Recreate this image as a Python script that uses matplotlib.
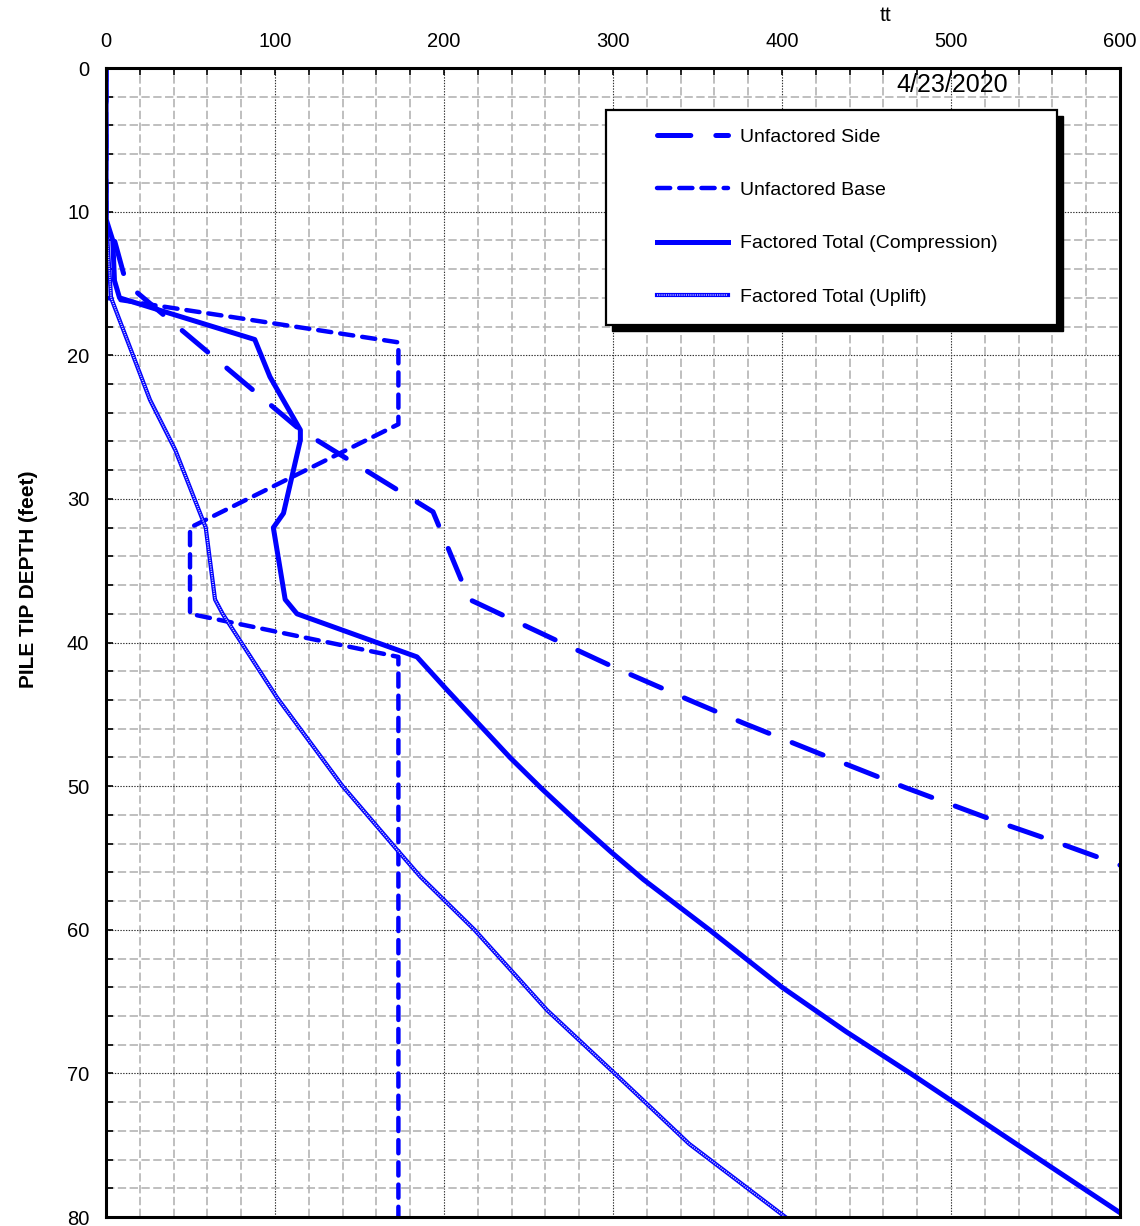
import matplotlib
matplotlib.use("Agg")
import matplotlib.pyplot as plt
from matplotlib.patches import Rectangle
from matplotlib.legend_handler import HandlerTuple
from matplotlib.ticker import MultipleLocator

plt.rcParams["font.family"] = ["Liberation Sans", "DejaVu Sans"]
plt.rcParams["lines.scale_dashes"] = False

BLUE = "#0000ff"

# capacity (x) vs pile tip depth in feet (y)
side_cap = [0, 0, 5, 12, 115, 193.5, 215, 271, 302, 345, 377, 430, 473, 528, 560, 593, 600]
side_depth = [0, 10.5, 12, 15, 25.2, 30.9, 37, 40.1, 41.8, 44, 45.6, 48.1, 50.1, 52.5, 53.8, 55.2, 55.5]

base_cap = [0, 0, 173, 173, 49.7, 49.7, 173, 173]
base_depth = [0, 16, 19.1, 24.8, 32, 38, 41, 80]

comp_cap = [0, 0, 4, 5, 8, 88, 97, 115, 115, 105, 99, 106, 113, 184, 201, 220, 239, 258, 279,
            299, 318, 357, 400, 438, 476, 541, 600]
comp_depth = [0, 10.5, 12, 14.8, 16, 18.9, 21.5, 25.2, 25.9, 31, 32, 37, 38, 41, 43.2, 45.6, 48, 50.2, 52.5,
              54.6, 56.5, 60, 64, 67.1, 70, 75.1, 79.7]

upl_cap = [0, 0, 3, 26, 41, 59, 64.5, 69, 101, 140, 172, 186, 218, 261, 301, 345, 402]
upl_depth = [0, 10.5, 16, 23.1, 26.6, 32, 37, 38, 43.8, 50, 54.4, 56.3, 60, 65.6, 70, 74.9, 80]

labels = ["Unfactored Side", "Unfactored Base", "Factored Total (Compression)", "Factored Total (Uplift)"]
x_ticks = [0, 100, 200, 300, 400, 500, 600]
y_ticks = [0, 10, 20, 30, 40, 50, 60, 70, 80]

fig = plt.figure(figsize=(11.4, 12.26), dpi=100)
ax = fig.add_axes([0.093, 0.0073, 0.8895, 0.9372])

ax.set_xlim(0, 600)
ax.set_ylim(80, 0)
ax.set_xticks(x_ticks)
ax.set_yticks(y_ticks)
ax.xaxis.set_minor_locator(MultipleLocator(20))
ax.yaxis.set_minor_locator(MultipleLocator(2))
ax.xaxis.tick_top()

ax.grid(True, which="minor", color="#b4b4b4", lw=1.2, linestyle=(0, (6, 2.5)))
ax.grid(True, which="major", color="#333333", lw=0.8, linestyle=(0, (1, 1)))
ax.set_axisbelow(True)

ax.tick_params(which="both", direction="in", top=True, left=True, bottom=False, right=False,
               labeltop=True, labelbottom=False, width=1.2, color="black")
ax.tick_params(which="major", length=5, labelsize=14.5, pad=12)
ax.tick_params(which="minor", length=5)
for sp in ax.spines.values():
    sp.set_linewidth(2.2)

side, = ax.plot(side_cap, side_depth, color=BLUE, lw=3.6, linestyle=(0, (24, 18)),
                dash_capstyle="round", solid_joinstyle="round")
base, = ax.plot(base_cap, base_depth, color=BLUE, lw=3.2, linestyle=(0, (9.5, 6.5)),
                dash_capstyle="round")
comp, = ax.plot(comp_cap, comp_depth, color=BLUE, lw=3.6, solid_joinstyle="round")
# uplift drawn as a blue line with a fine white dotted core (textured look)
upl_a, = ax.plot(upl_cap, upl_depth, color=BLUE, lw=3.0)
upl_b, = ax.plot(upl_cap, upl_depth, color="white", lw=1.1, alpha=0.8, linestyle=(0, (0.8, 0.8)))

ax.text(500.6, 1.2, "4/23/2020", fontsize=18, ha="center", va="center")
ax.text(461, 1.046, "tt", transform=ax.get_xaxis_transform(), fontsize=15, ha="center", va="center")

ax.set_ylabel("PILE TIP DEPTH (feet)", fontsize=15, fontweight="bold")
ax.yaxis.set_label_coords(-0.067, 0.555)

# legend frame with a hard black shadow
x0, y0, w, h = 0.493, 0.7763, 0.4449, 0.1871
ax.add_patch(Rectangle((x0 + 0.0059, y0 - 0.0052), w, h, transform=ax.transAxes, facecolor="black",
                       edgecolor="black", zorder=5, clip_on=False))
ax.add_patch(Rectangle((x0, y0), w, h, transform=ax.transAxes, facecolor="white",
                       edgecolor="black", lw=1.6, zorder=5.1, clip_on=False))

leg = ax.legend([side, base, comp, (upl_a, upl_b)], labels, loc="center left",
                bbox_to_anchor=(0.5434, 0.8703), frameon=False, fontsize=14,
                handlelength=3.65, handletextpad=0.62, labelspacing=1.83, borderpad=0,
                borderaxespad=0, handler_map={tuple: HandlerTuple(ndivide=1, pad=0)})
leg.set_zorder(6)

fig.savefig("out.png", dpi=100)
